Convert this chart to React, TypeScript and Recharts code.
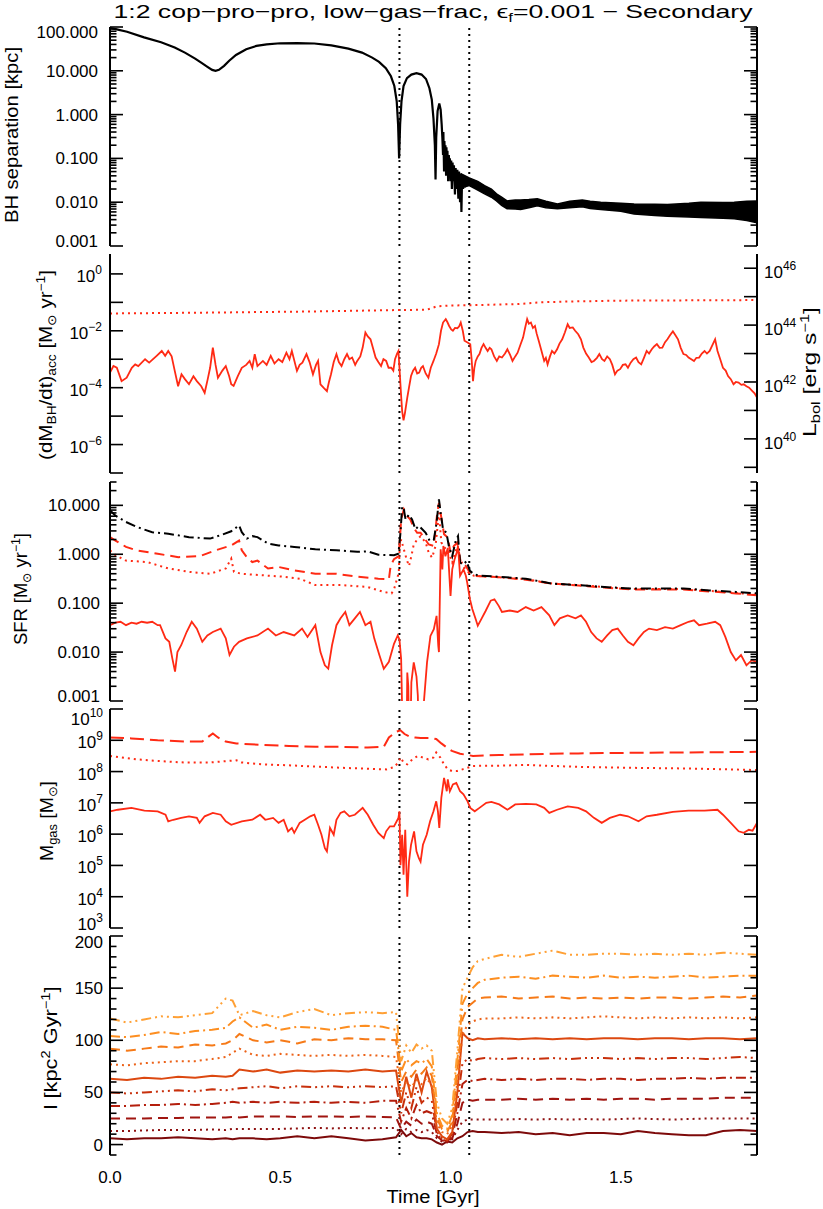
import React from 'react';
import { ComposedChart, Line, Area, XAxis, YAxis, ReferenceLine } from 'recharts';

// ---------------- data ----------------
const mergerTimes = [0.85, 1.055];
const timeTicks = [0, 0.1, 0.2, 0.3, 0.4, 0.5, 0.6, 0.7, 0.8, 0.9, 1.0, 1.1, 1.2, 1.3, 1.4, 1.5, 1.6, 1.7, 1.8, 1.9];
const timeLabelTicks = [0, 0.5, 1.0, 1.5];

// BH separation [kpc]  (t, kpc)
const separation = [
  [0.0, 95], [0.02, 88], [0.05, 78], [0.1, 58], [0.15, 45], [0.19, 34], [0.22, 26], [0.25, 19], [0.27, 15],
  [0.285, 12.5], [0.3, 10.5], [0.31, 10.0], [0.32, 10.5], [0.335, 13], [0.35, 17], [0.37, 23], [0.4, 31],
  [0.43, 37], [0.46, 40], [0.5, 42.5], [0.55, 43], [0.6, 42], [0.65, 38], [0.7, 32], [0.74, 26], [0.77, 20],
  [0.79, 16], [0.81, 11.5], [0.825, 7.5], [0.835, 4.5], [0.842, 2.0], [0.846, 0.6], [0.849, 0.1], [0.852, 0.6],
  [0.856, 2.0], [0.862, 4.5], [0.872, 6.8], [0.885, 8.2], [0.9, 8.8], [0.915, 8.2], [0.928, 6.5], [0.938, 4.0],
  [0.945, 2.2], [0.95, 0.8], [0.954, 0.2], [0.956, 0.033], [0.958, 0.3], [0.962, 1.2], [0.967, 1.8], [0.971, 1.3],
  [0.974, 0.6], [0.976, 0.3], [0.978, 0.12], [0.979, 0.4], [0.981, 0.05], [0.982, 0.25], [0.984, 0.08],
  [0.985, 0.2], [0.987, 0.04], [0.988, 0.18], [0.99, 0.06], [0.991, 0.15], [0.993, 0.03], [0.995, 0.12],
  [0.997, 0.05], [0.998, 0.1], [1.0, 0.03], [1.002, 0.09], [1.004, 0.02], [1.006, 0.08], [1.008, 0.03],
  [1.01, 0.07], [1.013, 0.015], [1.015, 0.06], [1.018, 0.02], [1.02, 0.055], [1.023, 0.012], [1.025, 0.05],
  [1.028, 0.01], [1.03, 0.045], [1.032, 0.006], [1.034, 0.04], [1.037, 0.02], [1.04, 0.035], [1.045, 0.025],
  [1.05, 0.03],
];
// late-time separation envelope (t, low, high) [kpc]
const separationBand = [
  [1.03, 0.021, 0.045], [1.055, 0.024, 0.036], [1.08, 0.019, 0.03], [1.1, 0.0155, 0.024], [1.12, 0.013, 0.02],
  [1.135, 0.0107, 0.0155], [1.15, 0.0085, 0.013], [1.166, 0.0071, 0.0107], [1.19, 0.007, 0.0112],
  [1.206, 0.0068, 0.0112], [1.23, 0.0075, 0.0115], [1.255, 0.0083, 0.012], [1.28, 0.0075, 0.0105],
  [1.314, 0.0071, 0.0091], [1.35, 0.0075, 0.0105], [1.387, 0.0079, 0.0112], [1.41, 0.0072, 0.0105],
  [1.441, 0.0068, 0.01], [1.5, 0.0062, 0.0095], [1.539, 0.0054, 0.0091], [1.6, 0.005, 0.009],
  [1.637, 0.0048, 0.0089], [1.7, 0.0046, 0.0095], [1.735, 0.0045, 0.01], [1.8, 0.0043, 0.0098],
  [1.833, 0.0042, 0.01], [1.87, 0.0038, 0.0105], [1.9, 0.0034, 0.0107],
];

// BH accretion rate, log10 [Msun/yr]
const accretionLog = [
  [0.0, -3.47], [0.01, -3.24], [0.02, -3.3], [0.034, -3.77], [0.049, -3.65], [0.064, -3.3], [0.074, -3.18],
  [0.083, -3.24], [0.103, -3.0], [0.115, -3.12], [0.137, -2.88], [0.152, -2.71], [0.162, -2.88], [0.171, -2.71],
  [0.181, -2.9], [0.19, -3.4], [0.2, -3.95], [0.21, -3.53], [0.22, -3.7], [0.232, -3.88], [0.245, -3.6],
  [0.255, -3.77], [0.268, -3.95], [0.278, -4.18], [0.287, -3.7], [0.294, -3.3], [0.302, -2.59], [0.31, -3.2],
  [0.317, -3.65], [0.33, -3.4], [0.34, -3.24], [0.35, -3.6], [0.356, -3.88], [0.363, -3.94], [0.375, -3.6],
  [0.387, -3.3], [0.4, -3.2], [0.41, -3.06], [0.418, -3.3], [0.425, -2.82], [0.433, -3.24], [0.449, -3.06],
  [0.46, -3.2], [0.472, -2.88], [0.483, -3.15], [0.495, -3.0], [0.506, -3.1], [0.518, -2.77], [0.527, -3.0],
  [0.534, -2.71], [0.549, -3.41], [0.557, -3.2], [0.565, -3.12], [0.577, -2.82], [0.586, -3.1], [0.596, -3.53],
  [0.605, -3.2], [0.611, -3.06], [0.618, -3.88], [0.627, -4.0], [0.637, -4.12], [0.643, -3.8], [0.649, -3.53],
  [0.657, -3.1], [0.665, -2.82], [0.672, -3.1], [0.68, -3.24], [0.688, -3.0], [0.696, -2.82], [0.703, -3.0],
  [0.711, -2.94], [0.72, -3.2], [0.726, -3.06], [0.735, -2.9], [0.742, -2.59], [0.75, -2.06], [0.757, -2.2],
  [0.765, -2.3], [0.772, -2.6], [0.78, -2.94], [0.788, -3.1], [0.796, -3.24], [0.803, -3.0], [0.811, -3.06],
  [0.818, -3.3], [0.826, -3.3], [0.832, -3.4], [0.837, -3.0], [0.843, -2.8], [0.847, -2.71], [0.85, -3.3],
  [0.855, -4.3], [0.858, -4.83], [0.862, -5.15], [0.866, -4.9], [0.873, -4.35], [0.878, -4.0], [0.884, -3.59],
  [0.89, -3.4], [0.896, -3.3], [0.902, -3.5], [0.908, -3.47], [0.914, -3.3], [0.919, -3.24], [0.927, -3.5],
  [0.935, -3.65], [0.942, -3.3], [0.95, -3.06], [0.958, -2.8], [0.966, -2.47], [0.972, -2.0], [0.978, -1.71],
  [0.986, -1.59], [0.991, -1.7], [0.996, -1.83], [1.002, -1.95], [1.007, -2.0], [1.013, -1.9], [1.02, -1.91],
  [1.025, -1.85], [1.03, -1.71], [1.036, -2.0], [1.041, -2.35], [1.05, -2.41], [1.058, -2.47], [1.062, -3.0],
  [1.066, -3.77], [1.07, -3.3], [1.074, -3.06], [1.08, -2.9], [1.085, -2.82], [1.091, -2.6], [1.097, -2.47],
  [1.103, -2.6], [1.109, -2.71], [1.115, -2.6], [1.12, -2.65], [1.128, -2.9], [1.136, -3.06], [1.143, -2.9],
  [1.151, -2.94], [1.16, -2.8], [1.167, -2.65], [1.175, -2.85], [1.182, -3.06], [1.19, -2.9], [1.197, -2.77],
  [1.205, -2.5], [1.213, -2.24], [1.219, -1.9], [1.225, -1.59], [1.23, -1.75], [1.236, -1.71], [1.242, -1.9],
  [1.248, -1.83], [1.253, -2.1], [1.259, -2.35], [1.267, -2.7], [1.275, -3.06], [1.28, -2.95], [1.285, -3.18],
  [1.292, -2.9], [1.298, -2.71], [1.305, -2.8], [1.313, -2.65], [1.32, -2.45], [1.328, -2.3], [1.336, -2.05],
  [1.344, -1.77], [1.35, -1.9], [1.359, -1.88], [1.366, -2.0], [1.375, -2.12], [1.383, -2.3], [1.39, -2.59],
  [1.398, -2.8], [1.406, -2.94], [1.414, -3.1], [1.421, -3.06], [1.43, -2.95], [1.437, -2.82], [1.445, -3.0],
  [1.452, -3.06], [1.46, -2.9], [1.468, -3.0], [1.475, -3.2], [1.483, -3.53], [1.49, -3.4], [1.498, -3.35],
  [1.506, -3.2], [1.514, -3.18], [1.521, -3.3], [1.529, -3.12], [1.537, -3.0], [1.545, -2.94], [1.552, -3.1],
  [1.56, -3.18], [1.568, -2.95], [1.576, -2.71], [1.583, -2.8], [1.591, -2.65], [1.598, -2.55], [1.606, -2.47],
  [1.614, -2.6], [1.622, -2.59], [1.63, -2.4], [1.637, -2.3], [1.645, -2.15], [1.653, -2.02], [1.66, -2.15],
  [1.668, -2.3], [1.676, -2.6], [1.684, -2.82], [1.692, -2.85], [1.699, -2.94], [1.707, -3.0], [1.715, -3.06],
  [1.722, -2.95], [1.73, -2.94], [1.738, -2.8], [1.746, -2.71], [1.753, -2.8], [1.761, -2.71], [1.769, -2.5],
  [1.777, -2.3], [1.784, -2.71], [1.792, -3.0], [1.8, -3.3], [1.808, -3.4], [1.815, -3.59], [1.823, -3.7],
  [1.831, -3.88], [1.838, -3.8], [1.846, -3.82], [1.854, -3.9], [1.861, -3.88], [1.869, -3.95], [1.877, -4.0],
  [1.885, -4.1], [1.893, -4.2], [1.9, -4.35],
];
// Eddington rate, log10 [Msun/yr]
const eddingtonLog = [
  [0.0, -1.39], [0.3, -1.36], [0.6, -1.32], [0.85, -1.27], [0.93, -1.26], [0.96, -1.14], [1.0, -1.11],
  [1.06, -1.1], [1.2, -1.06], [1.26, -1.0], [1.35, -0.97], [1.5, -0.94], [1.9, -0.92],
];

// SFR, log10 [Msun/yr]
const sfrTotalLog = [
  [0, 0.9], [0.016, 0.79], [0.047, 0.66], [0.078, 0.56], [0.124, 0.45], [0.171, 0.42], [0.232, 0.35],
  [0.294, 0.32], [0.325, 0.39], [0.356, 0.47], [0.379, 0.59], [0.387, 0.45], [0.402, 0.32], [0.418, 0.37],
  [0.433, 0.35], [0.464, 0.22], [0.495, 0.18], [0.541, 0.15], [0.603, 0.1], [0.665, 0.08], [0.726, 0.05],
  [0.757, 0.06], [0.788, -0.01], [0.834, -0.02], [0.847, 0.01], [0.853, 0.44], [0.858, 0.98], [0.863, 0.92],
  [0.868, 0.71], [0.878, 0.81], [0.887, 0.71], [0.897, 0.51], [0.907, 0.58], [0.917, 0.51], [0.927, 0.44],
  [0.939, 0.27], [0.951, 0.3], [0.959, 0.64], [0.966, 1.12], [0.971, 0.85], [0.978, 0.51], [0.988, 0.44],
  [0.995, 0.17], [1.005, -0.04], [1.015, 0.27], [1.022, 0.37], [1.028, -0.17], [1.038, -0.21], [1.047, -0.14],
  [1.057, -0.34], [1.069, -0.41], [1.088, -0.44], [1.143, -0.46], [1.221, -0.5], [1.298, -0.6], [1.375, -0.63],
  [1.452, -0.67], [1.529, -0.7], [1.606, -0.7], [1.684, -0.7], [1.761, -0.74], [1.838, -0.77], [1.9, -0.8],
];
const sfrGasLog = [
  [0, 0.35], [0.016, 0.28], [0.047, 0.15], [0.078, 0.08], [0.14, 0.01], [0.201, -0.06], [0.263, -0.04],
  [0.31, 0.08], [0.356, 0.18], [0.379, 0.28], [0.387, 0.08], [0.402, -0.06], [0.418, -0.16], [0.433, -0.13],
  [0.464, -0.29], [0.495, -0.26], [0.541, -0.33], [0.603, -0.4], [0.665, -0.4], [0.726, -0.46], [0.788, -0.5],
  [0.819, -0.51], [0.824, -0.24], [0.834, -0.1], [0.848, -0.04], [0.855, 0.71], [0.863, 0.92], [0.873, 0.78],
  [0.882, 0.71], [0.892, 0.54], [0.902, 0.44], [0.912, 0.44], [0.922, 0.34], [0.936, 0.2], [0.951, 0.17],
  [0.961, 0.85], [0.966, 1.05], [0.973, 0.75], [0.981, 0.41], [0.992, 0.34], [1.0, 0.03], [1.01, 0.17],
  [1.02, 0.24], [1.03, -0.17], [1.045, -0.24], [1.057, -0.38], [1.069, -0.44], [1.143, -0.47], [1.221, -0.52],
  [1.298, -0.6], [1.375, -0.64], [1.452, -0.68], [1.529, -0.72], [1.606, -0.72], [1.684, -0.72], [1.761, -0.76],
  [1.838, -0.8], [1.9, -0.84],
];
const sfrDenseLog = [
  [0, 0.08], [0.016, -0.02], [0.047, -0.13], [0.109, -0.16], [0.171, -0.29], [0.232, -0.36], [0.294, -0.4],
  [0.34, -0.29], [0.356, -0.09], [0.364, -0.36], [0.387, -0.4], [0.449, -0.43], [0.51, -0.46], [0.557, -0.5],
  [0.603, -0.63], [0.68, -0.63], [0.757, -0.67], [0.804, -0.77], [0.827, -0.8], [0.834, -0.72], [0.848, -0.38],
  [0.851, 0.17], [0.855, 0.3], [0.863, 0.1], [0.871, -0.1], [0.878, -0.24], [0.885, -0.04], [0.892, 0.2],
  [0.902, 0.3], [0.912, 0.37], [0.927, 0.24], [0.936, 0.03], [0.946, -0.07], [0.956, 0.17], [0.966, 0.85],
  [0.973, 0.24], [0.983, 0.13], [0.992, 0.1], [1.005, -0.17], [1.018, 0.13], [1.028, -0.1], [1.04, -0.27],
  [1.054, -0.38], [1.069, -0.44], [1.143, -0.47], [1.221, -0.51], [1.298, -0.6], [1.375, -0.63], [1.452, -0.67],
  [1.529, -0.71], [1.606, -0.71], [1.684, -0.71], [1.761, -0.75], [1.838, -0.79], [1.9, -0.83],
];
const sfrNuclearLog = [
  [0, -1.45], [0.016, -1.4], [0.031, -1.38], [0.047, -1.45], [0.063, -1.4], [0.078, -1.42], [0.093, -1.38],
  [0.109, -1.4], [0.124, -1.38], [0.14, -1.45], [0.147, -1.45], [0.163, -1.72], [0.174, -1.79], [0.183, -2.13],
  [0.191, -2.4], [0.198, -2.0], [0.209, -1.86], [0.225, -1.59], [0.24, -1.38], [0.255, -1.52], [0.271, -1.79],
  [0.286, -1.66], [0.302, -1.59], [0.325, -1.52], [0.34, -1.72], [0.351, -2.06], [0.364, -1.89], [0.379, -1.79],
  [0.402, -1.72], [0.433, -1.66], [0.464, -1.52], [0.487, -1.66], [0.51, -1.59], [0.541, -1.66], [0.564, -1.52],
  [0.58, -1.69], [0.603, -1.45], [0.618, -2.0], [0.631, -2.27], [0.641, -2.34], [0.652, -1.86], [0.665, -1.45],
  [0.677, -1.31], [0.691, -1.18], [0.703, -1.45], [0.719, -1.31], [0.734, -1.18], [0.75, -1.45], [0.765, -1.38],
  [0.776, -1.72], [0.791, -2.06], [0.804, -2.34], [0.819, -2.2], [0.834, -1.83], [0.845, -1.66], [0.85, -1.74],
  [0.855, -2.15], [0.858, -3.2], [0.863, -4.5], [0.87, -4.5], [0.873, -2.42], [0.876, -2.7], [0.88, -4.5],
  [0.885, -2.62], [0.892, -2.21], [0.9, -2.5], [0.904, -2.89], [0.908, -4.5], [0.917, -4.5], [0.922, -3.0],
  [0.931, -2.21], [0.941, -1.67], [0.951, -1.53], [0.959, -1.26], [0.964, -1.87], [0.966, -2.0], [0.971, 0.1],
  [0.976, -0.31], [0.979, 0.17], [0.985, -0.04], [0.992, 0.13], [1.0, -0.85], [1.005, -0.31], [1.012, -0.1],
  [1.018, 0.03], [1.022, 0.17], [1.028, -0.44], [1.038, -0.31], [1.045, -0.44], [1.049, -0.58], [1.057, -0.92],
  [1.064, -1.12], [1.074, -1.33], [1.08, -1.46], [1.09, -1.33], [1.103, -1.16], [1.118, -0.95], [1.129, -0.92],
  [1.142, -1.06], [1.151, -1.18], [1.174, -1.15], [1.197, -1.18], [1.221, -1.08], [1.244, -1.15], [1.267, -1.08],
  [1.29, -1.25], [1.305, -1.45], [1.321, -1.31], [1.344, -1.25], [1.367, -1.31], [1.383, -1.25], [1.398, -1.38],
  [1.413, -1.59], [1.429, -1.72], [1.444, -1.79], [1.46, -1.66], [1.475, -1.55], [1.491, -1.52], [1.506, -1.66],
  [1.521, -1.79], [1.537, -1.86], [1.552, -1.72], [1.568, -1.59], [1.583, -1.52], [1.606, -1.55], [1.63, -1.49],
  [1.653, -1.52], [1.676, -1.45], [1.699, -1.38], [1.715, -1.35], [1.73, -1.45], [1.753, -1.42], [1.777, -1.38],
  [1.792, -1.45], [1.807, -1.69], [1.823, -2.0], [1.838, -2.17], [1.853, -2.06], [1.869, -2.27], [1.884, -2.17],
  [1.9, -2.2],
];

// Gas mass, log10 [Msun]
const gasTotalLog = [
  [0, 9.09], [0.063, 9.06], [0.14, 9.0], [0.217, 8.96], [0.271, 8.96], [0.286, 9.09], [0.302, 9.22],
  [0.317, 9.09], [0.34, 8.96], [0.371, 8.9], [0.449, 8.85], [0.526, 8.82], [0.603, 8.79], [0.68, 8.79],
  [0.757, 8.77], [0.804, 8.79], [0.819, 9.09], [0.842, 9.28], [0.853, 9.32], [0.865, 9.2], [0.881, 9.11],
  [0.896, 9.09], [0.912, 9.07], [0.943, 9.07], [0.958, 9.04], [0.973, 8.9], [0.989, 8.77], [1.004, 8.66],
  [1.028, 8.57], [1.05, 8.53], [1.066, 8.5], [1.143, 8.53], [1.221, 8.55], [1.298, 8.57], [1.375, 8.58],
  [1.529, 8.6], [1.684, 8.61], [1.9, 8.63],
];
const gasDenseLog = [
  [0, 8.5], [0.078, 8.39], [0.14, 8.34], [0.217, 8.29], [0.294, 8.29], [0.371, 8.36], [0.387, 8.29],
  [0.449, 8.23], [0.526, 8.2], [0.603, 8.16], [0.68, 8.12], [0.757, 8.09], [0.811, 8.07], [0.834, 8.14],
  [0.847, 8.29], [0.853, 8.45], [0.862, 8.29], [0.873, 8.23], [0.888, 8.39], [0.904, 8.5], [0.919, 8.45],
  [0.935, 8.39], [0.95, 8.45], [0.958, 8.61], [0.97, 8.45], [0.981, 8.23], [0.992, 8.07], [1.004, 8.02],
  [1.02, 8.02], [1.035, 8.07], [1.05, 8.12], [1.066, 8.18], [1.143, 8.19], [1.221, 8.21], [1.298, 8.18],
  [1.375, 8.15], [1.529, 8.12], [1.684, 8.1], [1.9, 8.05],
];
const gasNuclearLog = [
  [0, 6.73], [0.023, 6.78], [0.063, 6.84], [0.101, 6.75], [0.14, 6.73], [0.163, 6.62], [0.171, 6.41],
  [0.186, 6.46], [0.209, 6.52], [0.232, 6.57], [0.255, 6.52], [0.263, 6.36], [0.278, 6.57], [0.302, 6.68],
  [0.325, 6.62], [0.34, 6.41], [0.356, 6.3], [0.387, 6.41], [0.418, 6.46], [0.441, 6.62], [0.456, 6.46],
  [0.479, 6.52], [0.495, 6.36], [0.51, 6.46], [0.523, 6.09], [0.534, 6.2], [0.541, 6.04], [0.557, 6.36],
  [0.572, 6.46], [0.588, 6.57], [0.6, 6.62], [0.611, 6.3], [0.621, 5.98], [0.631, 5.55], [0.637, 5.45],
  [0.646, 6.2], [0.657, 5.98], [0.665, 6.46], [0.677, 6.68], [0.688, 6.73], [0.703, 6.57], [0.719, 6.62],
  [0.742, 6.84], [0.757, 6.62], [0.773, 6.3], [0.788, 6.04], [0.804, 5.87], [0.811, 6.09], [0.822, 6.25],
  [0.834, 6.25], [0.847, 6.52], [0.85, 6.73], [0.853, 5.01], [0.858, 5.98], [0.862, 4.7], [0.867, 6.14],
  [0.873, 4.0], [0.878, 5.12], [0.884, 5.66], [0.893, 6.09], [0.9, 5.45], [0.907, 5.23], [0.912, 5.12],
  [0.919, 5.66], [0.93, 5.98], [0.94, 6.41], [0.95, 6.73], [0.958, 7.05], [0.963, 6.73], [0.967, 6.2],
  [0.973, 7.16], [0.981, 7.8], [0.989, 7.37], [0.992, 7.75], [0.998, 7.37], [1.007, 7.59], [1.017, 7.64],
  [1.028, 7.37], [1.038, 7.27], [1.05, 7.05], [1.058, 6.84], [1.071, 6.73], [1.085, 6.84], [1.105, 7.0],
  [1.12, 7.03], [1.143, 6.95], [1.167, 6.78], [1.19, 6.95], [1.221, 6.97], [1.252, 6.95], [1.275, 6.84],
  [1.29, 6.68], [1.313, 6.78], [1.344, 6.89], [1.375, 6.84], [1.398, 6.73], [1.421, 6.52], [1.444, 6.36],
  [1.468, 6.52], [1.498, 6.62], [1.521, 6.57], [1.552, 6.41], [1.576, 6.57], [1.606, 6.62], [1.653, 6.71],
  [1.699, 6.75], [1.746, 6.75], [1.784, 6.78], [1.8, 6.62], [1.823, 6.36], [1.846, 6.09], [1.861, 6.04],
  [1.876, 6.14], [1.887, 6.11], [1.9, 6.36],
];

// specific angular momentum [kpc^2/Gyr], 10 radii, shared time grid
const angTime = [0, 0.05, 0.1, 0.15, 0.2, 0.25, 0.3, 0.34, 0.36, 0.38, 0.42, 0.46, 0.5, 0.55, 0.6, 0.65, 0.7, 0.75, 0.8, 0.84,
  0.855, 0.87, 0.885, 0.9, 0.915, 0.93, 0.945, 0.96, 0.975, 0.99,
  1.005, 1.02, 1.035, 1.05, 1.065, 1.08, 1.1,
  1.15, 1.2, 1.25, 1.3, 1.35, 1.4, 1.45, 1.5, 1.55, 1.6, 1.65, 1.7, 1.75, 1.8, 1.85, 1.9];
const ang1 = [6, 5, 6, 6, 7, 6, 5, 6, 5, 6, 6, 5, 6, 8, 6, 8, 6, 4, 5, 7, 14, 8, 11, 7, 6, 6, 5, 2, 0, 3, 2, 6, 8, 12, 13, 12, 12, 11, 12, 10, 11, 9, 11, 11, 10, 13, 11, 10, 9, 9, 13, 14, 13];
const ang2 = [13, 13, 13.5, 14, 14, 14, 14.5, 14, 15, 15, 15, 15, 15, 15.5, 16, 15.5, 16, 15.5, 16, 16, 10, 15, 12, 14, 12, 14, 12, 6, 3, 2, 5, 14, 22, 24, 24, 24, 24, 24, 24.5, 24, 24.5, 24, 24.5, 24, 24.5, 25, 24.5, 24, 24.5, 25, 25, 25, 25];
const ang3 = [25, 25, 25, 25.5, 25.5, 26, 26, 26, 26.5, 26, 27, 27, 27, 26.5, 27, 27, 26.5, 27, 26.5, 26, 15, 22, 18, 24, 20, 22, 20, 8, 4, 3, 6, 20, 40, 43, 42, 43, 43, 43, 44, 43, 44, 43, 44, 43, 44, 44, 43, 44, 44, 44, 45, 45, 45];
const ang4 = [37, 37, 38, 38, 39, 38, 39, 40, 41, 40, 41, 40, 41, 40, 41, 40, 41, 40, 42, 42, 22, 35, 25, 38, 30, 32, 30, 10, 5, 3, 8, 30, 58, 62, 61, 62, 63, 62, 63, 62, 63, 63, 62, 63, 63, 62, 63, 63, 64, 63, 64, 64, 64];
const ang5 = [50, 49, 50, 51, 52, 51, 53, 52, 53, 54, 55, 56, 54, 56, 55, 56, 55, 56, 55, 56, 30, 50, 35, 55, 40, 45, 42, 12, 6, 4, 10, 40, 78, 82, 80, 82, 83, 82, 83, 82, 83, 82, 83, 83, 82, 83, 82, 83, 83, 82, 83, 84, 83];
const ang6 = [63, 62, 64, 63, 65, 64, 66, 65, 66, 72, 70, 72, 69, 71, 70, 71, 70, 72, 70, 71, 40, 65, 45, 68, 50, 70, 55, 15, 8, 5, 12, 50, 107, 102, 100, 102, 101, 102, 101, 102, 101, 102, 101, 102, 102, 101, 102, 102, 101, 102, 102, 101, 102];
const ang7 = [77, 76, 78, 79, 80, 80, 82, 84, 88, 92, 86, 85, 87, 86, 85, 86, 85, 86, 85, 84, 50, 60, 55, 62, 58, 64, 56, 20, 12, 10, 18, 60, 105, 115, 118, 120, 121, 121, 122, 121, 122, 121, 122, 123, 122, 121, 122, 121, 122, 121, 122, 121, 122];
const ang8 = [92, 90, 92, 94, 93, 96, 95, 97, 100, 106, 100, 98, 100, 97, 101, 100, 102, 101, 101, 100, 60, 70, 65, 72, 68, 74, 66, 25, 15, 12, 22, 70, 120, 132, 136, 140, 141, 142, 140, 141, 142, 140, 141, 140, 141, 140, 141, 141, 140, 141, 142, 141, 143];
const ang9 = [104, 103, 105, 108, 106, 109, 110, 112, 118, 122, 112, 115, 110, 113, 112, 110, 113, 114, 113, 110, 70, 82, 76, 80, 78, 82, 75, 30, 18, 15, 28, 80, 135, 145, 150, 155, 158, 160, 161, 159, 162, 161, 160, 162, 160, 161, 160, 161, 162, 160, 161, 162, 162];
const ang10 = [121, 117, 120, 123, 122, 124, 126, 140, 138, 124, 128, 124, 122, 127, 130, 124, 126, 127, 126, 127, 80, 95, 88, 96, 92, 95, 90, 40, 25, 20, 35, 90, 150, 160, 170, 176, 178, 182, 180, 183, 186, 182, 182, 183, 183, 182, 183, 182, 183, 182, 184, 183, 182];
const angSeries = [ang1, ang2, ang3, ang4, ang5, ang6, ang7, ang8, ang9, ang10];
const angColors = ['#7d0a0a', '#8e1010', '#a01510', '#b41e0c', '#c8300c', '#dc4810', '#ec6218', '#f67a18', '#fd8e20', '#ffa035'];

// ---------------- styling / layout ----------------
const FONT = "'Liberation Sans', Arial, Helvetica, sans-serif";
const RED = '#ff2a14';
const W = 823;
const PANEL_TOPS = [27, 254, 482, 709, 936];
const PANEL_H = 219;
const PAD = 20;
const DOT = '2 4';
const DASH = '10 6';
const DASHDOT = '10 4 2 4';
const DASH3DOT = '10 4 2 4 2 4 2 4';
const angStyles = [undefined, DOT, DASH, DASHDOT, DASH3DOT, undefined, DOT, DASH, DASHDOT, DASH3DOT];

const fromLog = (pairs: number[][]) => pairs.map(([t, e]) => ({ t, v: Math.pow(10, e) }));
const fromLin = (pairs: number[][]) => pairs.map(([t, v]) => ({ t, v }));

const sepData = fromLin(separation);
const bandData = separationBand.map(([t, lo, hi]) => ({ t, r: [lo, hi] }));
const accData = fromLog(accretionLog);
const eddData = fromLog(eddingtonLog);
const sfrTotData = fromLog(sfrTotalLog);
const sfrGasData = fromLog(sfrGasLog);
const sfrDenseData = fromLog(sfrDenseLog);
const sfrNucData = fromLog(sfrNuclearLog);
const gasTotData = fromLog(gasTotalLog);
const gasDenseData = fromLog(gasDenseLog);
const gasNucData = fromLog(gasNuclearLog);
const angData = angSeries.map((arr) => angTime.map((t, i) => ({ t, v: arr[i] })));

function logTicks(lo: number, hi: number, minors: boolean): number[] {
  const out: number[] = [];
  for (let k = lo; k <= hi; k++) {
    out.push(Math.pow(10, k));
    if (minors && k < hi) for (let m = 2; m <= 9; m++) out.push(m * Math.pow(10, k));
  }
  return out;
}
const isDecade = (v: number) => {
  const l = Math.log10(v);
  return Math.abs(l - Math.round(l)) < 1e-6;
};
const expOf = (v: number) => Math.round(Math.log10(v));

const sepTicks = logTicks(-3, 2, true);
const accTicks = logTicks(-7, 0, false);
const lumTicks = logTicks(39, 46, false);
const sfrTicks = [...logTicks(-3, 1, true), 20, 30];
const gasTicks = logTicks(3, 10, false);
const angTicks = [-10, 0, 10, 20, 30, 40, 50, 60, 70, 80, 90, 100, 110, 120, 130, 140, 150, 160, 170, 180, 190, 200];

const pow10Label = (n: number) => (
  <>
    <tspan>10</tspan>
    <tspan dy={-8} fontSize={12}>{n < 0 ? '\u2212' + -n : String(n)}</tspan>
  </>
);

type LabelFn = (v: number) => React.ReactNode | null;

const makeYTick = (
  side: 'left' | 'right',
  major: (v: number) => boolean,
  label: LabelFn | null,
  gap: number,
  baseDy: number,
  shift?: (v: number) => number,
) => (props: any) => {
  const { x, y, payload } = props;
  const v = payload.value;
  const maj = major(v);
  const len = maj ? 13 : 6.5;
  const dir = side === 'left' ? 1 : -1;
  const lab = label && maj ? label(v) : null;
  const sh = shift ? shift(v) : 0;
  return (
    <g>
      <line x1={x} x2={x + dir * len} y1={y} y2={y} stroke="#000" strokeWidth={1.6} />
      {lab != null && (
        <text
          x={side === 'left' ? x - gap : x + gap}
          y={y + baseDy + sh}
          textAnchor={side === 'left' ? 'end' : 'start'}
          fontSize={17}
          fontFamily={FONT}
          fill="#000"
        >
          {lab}
        </text>
      )}
    </g>
  );
};

const makeXTick = (side: 'top' | 'bottom') => (props: any) => {
  const { x, y, payload } = props;
  const v = payload.value;
  const maj = Math.abs(v * 2 - Math.round(v * 2)) < 1e-6;
  const len = maj ? 6 : 3.5;
  const dir = side === 'bottom' ? -1 : 1;
  return <line x1={x} x2={x} y1={y} y2={y + dir * len} stroke="#000" strokeWidth={1.6} />;
};

type PanelProps = {
  top: number;
  bottomExtra: number;
  showTimeLabels: boolean;
  yScale: 'log' | 'linear';
  yDomain: [number, number];
  yTicks: number[];
  yMajor: (v: number) => boolean;
  yLabel: LabelFn;
  yGap: number;
  yBaseDy: number;
  yShift?: (v: number) => number;
  rDomain?: [number, number];
  rTicks?: number[];
  rLabel?: LabelFn | null;
  children?: React.ReactNode;
};

const axisLine = { stroke: '#000', strokeWidth: 2 };
const LABEL_AXIS_H = 30;

function Panel(p: PanelProps) {
  const labH = p.showTimeLabels ? LABEL_AXIS_H : 0;
  return (
    <div style={{ position: 'absolute', left: 0, top: p.top - PAD }}>
      <ComposedChart
        width={W}
        height={PANEL_H + 2 * PAD + p.bottomExtra}
        margin={{ top: PAD, right: 56, bottom: PAD + p.bottomExtra - labH, left: 100 }}
      >
        <XAxis
          xAxisId="b"
          type="number"
          dataKey="t"
          domain={[0, 1.9]}
          allowDataOverflow
          ticks={timeTicks}
          interval={0}
          orientation="bottom"
          height={0}
          tickSize={0}
          tickMargin={0}
          tickLine={false}
          axisLine={axisLine}
          tick={makeXTick('bottom')}
        />
        <XAxis
          xAxisId="t"
          type="number"
          dataKey="t"
          domain={[0, 1.9]}
          allowDataOverflow
          ticks={timeTicks}
          interval={0}
          orientation="top"
          height={0}
          tickSize={0}
          tickMargin={0}
          tickLine={false}
          axisLine={axisLine}
          tick={makeXTick('top')}
        />
        {p.showTimeLabels && (
          <XAxis
            xAxisId="lab"
            type="number"
            dataKey="t"
            domain={[0, 1.9]}
            allowDataOverflow
            ticks={timeLabelTicks}
            interval={0}
            orientation="bottom"
            height={LABEL_AXIS_H}
            tickSize={0}
            tickMargin={16}
            tickLine={false}
            axisLine={false}
            tick={{ fontSize: 17, fill: '#000', fontFamily: FONT }}
            tickFormatter={(v: number) => v.toFixed(1)}
          />
        )}
        <YAxis
          yAxisId="l"
          orientation="left"
          scale={p.yScale}
          type="number"
          domain={p.yDomain}
          allowDataOverflow
          ticks={p.yTicks}
          interval={0}
          width={10}
          tickSize={0}
          tickMargin={0}
          tickLine={false}
          axisLine={axisLine}
          tick={makeYTick('left', p.yMajor, p.yLabel, p.yGap, p.yBaseDy, p.yShift)}
        />
        <YAxis
          yAxisId="r"
          orientation="right"
          scale={p.yScale}
          type="number"
          domain={p.rDomain || p.yDomain}
          allowDataOverflow
          ticks={p.rTicks || p.yTicks}
          interval={0}
          width={10}
          tickSize={0}
          tickMargin={0}
          tickLine={false}
          axisLine={axisLine}
          tick={makeYTick('right', p.rTicks ? isDecade : p.yMajor, p.rLabel || null, 7, 10)}
        />
        {mergerTimes.map((t) => (
          <ReferenceLine
            key={t}
            x={t}
            xAxisId="b"
            yAxisId="l"
            stroke="#000"
            strokeWidth={2}
            strokeDasharray={DOT}
          />
        ))}
        {p.children}
      </ComposedChart>
    </div>
  );
}

const lineCommon = {
  xAxisId: 'b',
  yAxisId: 'l',
  dataKey: 'v',
  type: 'linear' as const,
  dot: false,
  activeDot: false,
  isAnimationActive: false,
};

function VTitle({ cx, cy, len, children }: { cx: number; cy: number; len: number; children: React.ReactNode }) {
  return (
    <text
      transform={`translate(${cx + 6},${cy}) rotate(-90)`}
      textAnchor="middle"
      fontSize={18}
      fontFamily={FONT}
      fill="#000"
      textLength={len}
      lengthAdjust="spacingAndGlyphs"
    >
      {children}
    </text>
  );
}

export default function App() {
  return (
    <div style={{ position: 'absolute', left: 0, top: 0, width: W, height: 1209, background: '#fff', fontFamily: FONT }}>
      {/* Panel 1: BH separation */}
      <Panel
        top={PANEL_TOPS[0]}
        bottomExtra={0}
        showTimeLabels={false}
        yScale="log"
        yDomain={[0.001, 100]}
        yTicks={sepTicks}
        yMajor={isDecade}
        yLabel={(v) => v.toFixed(3)}
        yGap={12}
        yBaseDy={6}
        yShift={(v) => (v > 50 ? 5 : v < 0.002 ? -5 : 0)}
      >
        <Area
          {...lineCommon}
          type="linear"
          data={bandData}
          dataKey="r"
          stroke="#000"
          strokeWidth={1.5}
          fill="#000"
          fillOpacity={1}
        />
        <Line {...lineCommon} data={sepData} stroke="#000" strokeWidth={2.2} />
      </Panel>

      {/* Panel 2: BH accretion */}
      <Panel
        top={PANEL_TOPS[1]}
        bottomExtra={0}
        showTimeLabels={false}
        yScale="log"
        yDomain={[1e-7, Math.pow(10, 0.7)]}
        yTicks={accTicks}
        yMajor={isDecade}
        yLabel={(v) => (expOf(v) % 2 === 0 ? pow10Label(expOf(v)) : null)}
        yGap={8}
        yBaseDy={8}
        rDomain={[Math.pow(10, 38.8), Math.pow(10, 46.5)]}
        rTicks={lumTicks}
        rLabel={(v) => (expOf(v) % 2 === 0 ? pow10Label(expOf(v)) : null)}
      >
        <Line {...lineCommon} data={eddData} stroke={RED} strokeWidth={2} strokeDasharray={DOT} />
        <Line {...lineCommon} data={accData} stroke={RED} strokeWidth={1.8} />
      </Panel>

      {/* Panel 3: SFR */}
      <Panel
        top={PANEL_TOPS[2]}
        bottomExtra={0}
        showTimeLabels={false}
        yScale="log"
        yDomain={[0.001, 30]}
        yTicks={sfrTicks}
        yMajor={isDecade}
        yLabel={(v) => v.toFixed(3)}
        yGap={10}
        yBaseDy={6}
        yShift={(v) => (v < 0.002 ? -5 : 0)}
      >
        <Line {...lineCommon} data={sfrDenseData} stroke={RED} strokeWidth={2} strokeDasharray={DOT} />
        <Line {...lineCommon} data={sfrGasData} stroke={RED} strokeWidth={2} strokeDasharray={DASH} />
        <Line {...lineCommon} data={sfrTotData} stroke="#000" strokeWidth={2} strokeDasharray={DASHDOT} />
        <Line {...lineCommon} data={sfrNucData} stroke={RED} strokeWidth={1.8} />
      </Panel>

      {/* Panel 4: gas mass */}
      <Panel
        top={PANEL_TOPS[3]}
        bottomExtra={0}
        showTimeLabels={false}
        yScale="log"
        yDomain={[1e3, 1e10]}
        yTicks={gasTicks}
        yMajor={isDecade}
        yLabel={(v) => pow10Label(expOf(v))}
        yGap={7}
        yBaseDy={8}
        yShift={(v) => (v > 5e9 ? 8 : v < 2e3 ? -6 : 0)}
      >
        <Line {...lineCommon} data={gasTotData} stroke={RED} strokeWidth={2} strokeDasharray="14 6" />
        <Line {...lineCommon} data={gasDenseData} stroke={RED} strokeWidth={2} strokeDasharray={DOT} />
        <Line {...lineCommon} data={gasNucData} stroke={RED} strokeWidth={1.8} />
      </Panel>

      {/* Panel 5: angular momentum */}
      <Panel
        top={PANEL_TOPS[4]}
        bottomExtra={40}
        showTimeLabels
        yScale="linear"
        yDomain={[-10, 200]}
        yTicks={angTicks}
        yMajor={(v) => v % 50 === 0}
        yLabel={(v) => (v >= 0 ? String(v) : null)}
        yGap={7}
        yBaseDy={6}
        yShift={(v) => (v === 200 ? 6 : 0)}
      >
        {angData.map((d, i) => (
          <Line
            key={i}
            {...lineCommon}
            data={d}
            stroke={angColors[i]}
            strokeWidth={2}
            strokeDasharray={angStyles[i]}
          />
        ))}
      </Panel>

      {/* titles */}
      <svg width={W} height={1209} style={{ position: 'absolute', left: 0, top: 0, pointerEvents: 'none' }}>
        <text x={433} y={18} textAnchor="middle" fontSize={19} fontFamily={FONT} fill="#000" textLength={639} lengthAdjust="spacingAndGlyphs">
          <tspan>1:2 cop−pro−pro, low−gas−frac, ϵ</tspan>
          <tspan dy={4} fontSize={12}>f</tspan>
          <tspan dy={-4}>=0.001 − Secondary</tspan>
        </text>
        <VTitle cx={12} cy={135} len={176}>
          BH separation [kpc]
        </VTitle>
        <VTitle cx={46} cy={365} len={190}>
          <tspan>(dM</tspan>
          <tspan dy={4} fontSize={12}>BH</tspan>
          <tspan dy={-4}>/dt)</tspan>
          <tspan dy={4} fontSize={12}>acc</tspan>
          <tspan dy={-4}> [M</tspan>
          <tspan dy={4} fontSize={12}>⊙</tspan>
          <tspan dy={-4}> yr</tspan>
          <tspan dy={-7} fontSize={12}>−1</tspan>
          <tspan dy={7}>]</tspan>
        </VTitle>
        <VTitle cx={810} cy={372} len={130}>
          <tspan>L</tspan>
          <tspan dy={4} fontSize={12}>bol</tspan>
          <tspan dy={-4}> [erg s</tspan>
          <tspan dy={-7} fontSize={12}>−1</tspan>
          <tspan dy={7}>]</tspan>
        </VTitle>
        <VTitle cx={21} cy={589} len={112}>
          <tspan>SFR [M</tspan>
          <tspan dy={4} fontSize={12}>⊙</tspan>
          <tspan dy={-4}> yr</tspan>
          <tspan dy={-7} fontSize={12}>−1</tspan>
          <tspan dy={7}>]</tspan>
        </VTitle>
        <VTitle cx={47} cy={821} len={80}>
          <tspan>M</tspan>
          <tspan dy={4} fontSize={12}>gas</tspan>
          <tspan dy={-4}> [M</tspan>
          <tspan dy={4} fontSize={12}>⊙</tspan>
          <tspan dy={-4}>]</tspan>
        </VTitle>
        <VTitle cx={51} cy={1048} len={123}>
          <tspan>l [kpc</tspan>
          <tspan dy={-7} fontSize={12}>2</tspan>
          <tspan dy={7}> Gyr</tspan>
          <tspan dy={-7} fontSize={12}>−1</tspan>
          <tspan dy={7}>]</tspan>
        </VTitle>
        <text x={433} y={1203} textAnchor="middle" fontSize={18} fontFamily={FONT} fill="#000" textLength={93} lengthAdjust="spacingAndGlyphs">
          Time [Gyr]
        </text>
      </svg>
    </div>
  );
}
